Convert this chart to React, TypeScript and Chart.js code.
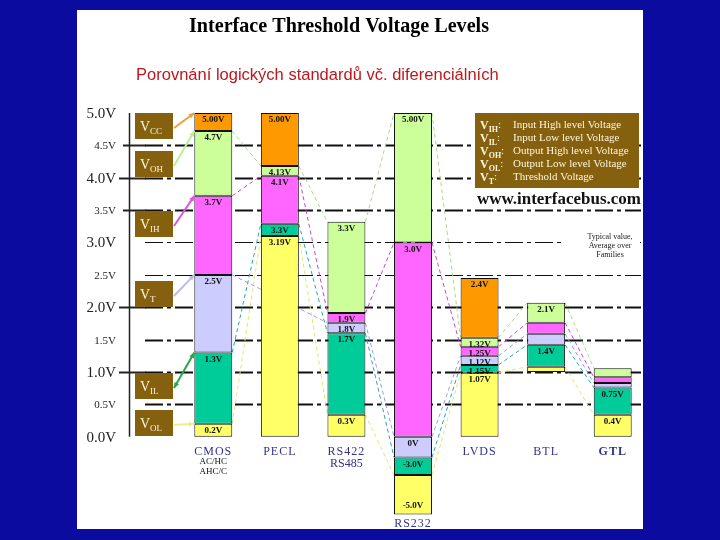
import React, { useEffect, useRef } from "react";
import { Chart, registerables } from "chart.js";
Chart.register(...registerables);

// ---------- data ----------
const categories = ["CMOS", "PECL", "RS422", "RS232", "LVDS", "BTL", "GTL"];
const categorySubLabels = [["AC/HC", "AHC/C"], [], ["RS485"], [], [], [], []];

// floating segments [low, high] as plotted (RS232 negative part is drawn compressed)
const volSeg = [[0, 0.2], [0, 3.1], [0, 0.34], [-1.2, -0.59], [0, 0.99], [1.0, 1.08], [0, 0.34]];
const vilSeg = [[0.2, 1.3], [3.1, 3.29], [0.34, 1.6], [-0.59, -0.32], [0.99, 1.11], [1.08, 1.42], [0.34, 0.76]];
const vtSeg = [[1.3, 2.5], null, [1.6, 1.76], [-0.32, 0], [1.11, 1.25], [1.42, 1.59], [0.76, 0.83]];
const vihSeg = [[2.5, 3.72], [3.29, 4.03], [1.76, 1.91], [0, 3.0], [1.25, 1.39], [1.59, 1.76], [0.83, 0.92]];
const vohSeg = [[3.72, 4.72], [4.03, 4.18], [1.91, 3.32], [3.0, 5.0], [1.39, 1.53], [1.76, 2.07], [0.92, 1.06]];
const vccSeg = [[4.72, 5.0], [4.18, 5.0], null, null, [1.53, 2.45], null, null];

const volText = ["0.2V", "3.19V", "0.3V", "-5.0V", "1.07V", null, "0.4V"];
const vilText = ["1.3V", "3.3V", "1.7V", "-3.0V", "1.15V", "1.4V", "0.75V"];
const vtText = ["2.5V", null, "1.8V", "0V", "1.12V", null, null];
const vihText = ["3.7V", "4.1V", "1.9V", "3.0V", "1.25V", null, null];
const vohText = ["4.7V", "4.13V", "3.3V", "5.00V", "1.32V", "2.1V", null];
const vccText = ["5.00V", "5.00V", null, null, "2.4V", null, null];

const yTickValues = [5, 4.5, 4, 3.5, 3, 2.5, 2, 1.5, 1, 0.5, 0];
const yTickLabels = ["5.0V", "4.5V", "4.0V", "3.5V", "3.0V", "2.5V", "2.0V", "1.5V", "1.0V", "0.5V", "0.0V"];
const gridValues = [4.5, 4, 3.5, 3, 2.5, 2, 1.5, 1, 0.5];

const levelSubs = ["CC", "OH", "IH", "T", "IL", "OL"];
const legendSubs = ["IH", "IL", "OH", "OL", "T"];
const legendTexts = [
  "Input High level Voltage",
  "Input Low level Voltage",
  "Output High level Voltage",
  "Output Low level Voltage",
  "Threshold Voltage",
];

const TITLE = "Interface Threshold Voltage Levels";
const SUBTITLE = "Porovnání logických standardů vč. diferenciálních";

// ---------- styles ----------
const fills = ["#ffff66", "#00cc99", "#ccccff", "#ff66ff", "#ccff99", "#ff9900"];
const lineColors = ["#e6e66a", "#2aa8a8", "#9a9aee", "#cc44cc", "#a8dd80", "#f0a040"];
const arrowColors = ["#f0a040", "#bbee99", "#dd55dd", "#bbbbee", "#22aa44", "#eeee88"];
const BROWN = "#85600f";
const SERIF = "'Liberation Serif', 'Times New Roman', serif";
const SANS = "'Liberation Sans', Arial, sans-serif";

const segs = [volSeg, vilSeg, vtSeg, vihSeg, vohSeg, vccSeg];
const texts = [volText, vilText, vtText, vihText, vohText, vccText];
// left box order: VCC, VOH, VIH, VT, VIL, VOL -> dataset index
const boxDataset = [5, 4, 3, 2, 1, 0];
const boxTopVolts = [5.0, 4.41, 3.49, 2.4, 0.99, 0.42];

function fitFont(ctx: CanvasRenderingContext2D, text: string, weight: string, family: string, target: number) {
  ctx.font = `${weight} 20px ${family}`;
  const w = ctx.measureText(text).width;
  const size = (20 * target) / w;
  return `${weight} ${size.toFixed(2)}px ${family}`;
}

function topOf(el: any) {
  return Math.min(el.y, el.base);
}
function bottomOf(el: any) {
  return Math.max(el.y, el.base);
}

function drawSubV(ctx: CanvasRenderingContext2D, x: number, yBase: number, sub: string, big: number, small: number, color: string, bold: boolean) {
  ctx.fillStyle = color;
  ctx.textAlign = "left";
  ctx.textBaseline = "alphabetic";
  ctx.font = `${bold ? "bold " : ""}${big}px ${SERIF}`;
  ctx.fillText("V", x, yBase);
  const w = ctx.measureText("V").width;
  ctx.font = `${bold ? "bold " : ""}${small}px ${SERIF}`;
  ctx.fillText(sub, x + w, yBase + small * 0.35);
  return x + w + ctx.measureText(sub).width;
}

function arrow(ctx: CanvasRenderingContext2D, x1: number, y1: number, x2: number, y2: number, color: string, both: boolean) {
  ctx.strokeStyle = color;
  ctx.fillStyle = color;
  ctx.lineWidth = 2;
  ctx.setLineDash([]);
  ctx.beginPath();
  ctx.moveTo(x1, y1);
  ctx.lineTo(x2, y2);
  ctx.stroke();
  const head = (xa: number, ya: number, xb: number, yb: number) => {
    const a = Math.atan2(yb - ya, xb - xa);
    ctx.beginPath();
    ctx.moveTo(xb, yb);
    ctx.lineTo(xb - 6 * Math.cos(a - 0.45), yb - 6 * Math.sin(a - 0.45));
    ctx.lineTo(xb - 6 * Math.cos(a + 0.45), yb - 6 * Math.sin(a + 0.45));
    ctx.closePath();
    ctx.fill();
  };
  head(x1, y1, x2, y2);
  if (both) head(x2, y2, x1, y1);
}

const deco = {
  id: "deco",
  beforeDatasetsDraw(chart: any) {
    const ctx: CanvasRenderingContext2D = chart.ctx;
    const ys = chart.scales.y;
    ctx.save();

    // title + subtitle
    ctx.fillStyle = "#000";
    ctx.textAlign = "center";
    ctx.textBaseline = "middle";
    ctx.font = fitFont(ctx, TITLE, "bold", SERIF, 300);
    ctx.fillText(TITLE, 339, 27);
    ctx.fillStyle = "#c0161e";
    ctx.textAlign = "left";
    ctx.font = fitFont(ctx, SUBTITLE, "normal", SANS, 363);
    ctx.fillText(SUBTITLE, 136, 75);

    // dash-dot grid lines
    ctx.strokeStyle = "#111";
    gridValues.forEach((v) => {
      const py = Math.round(ys.getPixelForValue(v)) + 0.5;
      ctx.lineWidth = v === 3 || v === 2.5 ? 1 : 2;
      ctx.setLineDash([18, 4, 4, 4]);
      ctx.beginPath();
      ctx.moveTo(145, py);
      ctx.lineTo(641, py);
      ctx.stroke();
    });
    ctx.setLineDash([]);
    // white area behind note text
    ctx.fillStyle = "#fff";
    ctx.fillRect(562, 228, 78, 36);

    // axis line + ticks + labels
    const p5 = ys.getPixelForValue(5);
    const p0 = ys.getPixelForValue(0);
    ctx.strokeStyle = "#222";
    ctx.lineWidth = 1.5;
    ctx.beginPath();
    ctx.moveTo(129.5, p5);
    ctx.lineTo(129.5, p0);
    ctx.stroke();
    yTickValues.forEach((v, i) => {
      const py = ys.getPixelForValue(v);
      const major = Number.isInteger(v);
      if (v > 0 && v < 5 && v !== 3 && v !== 2.5 && v !== 1.5 && v !== 0.5) {
        ctx.lineWidth = 2;
        ctx.beginPath();
        ctx.moveTo(major ? 119 : 123, Math.round(py) + 0.5);
        ctx.lineTo(146, Math.round(py) + 0.5);
        ctx.stroke();
      }
      ctx.fillStyle = "#222";
      ctx.textAlign = "right";
      ctx.textBaseline = "middle";
      ctx.font = `${major ? 15 : 11}px ${SERIF}`;
      ctx.fillText(yTickLabels[i], 116, py + 1);
    });

    // dashed connecting lines between bars
    ctx.lineWidth = 1;
    ctx.setLineDash([4, 3]);
    for (let d = 0; d < 5; d++) {
      const meta = chart.getDatasetMeta(d);
      const data = segs[d];
      ctx.strokeStyle = lineColors[d];
      for (let i = 0; i < data.length; i++) {
        if (!data[i]) continue;
        let j = i + 1;
        while (j < data.length && !data[j]) j++;
        if (j >= data.length) continue;
        const a: any = meta.data[i];
        const b: any = meta.data[j];
        ctx.beginPath();
        ctx.moveTo(a.x + a.width / 2, topOf(a));
        ctx.lineTo(b.x - b.width / 2, topOf(b));
        ctx.stroke();
      }
    }
    ctx.restore();
  },
  afterDatasetsDraw(chart: any) {
    const ctx: CanvasRenderingContext2D = chart.ctx;
    const ys = chart.scales.y;
    ctx.save();

    // segment labels
    ctx.textAlign = "center";
    ctx.textBaseline = "middle";
    ctx.fillStyle = "#111";
    ctx.font = `bold 9px ${SERIF}`;
    for (let d = 0; d < 6; d++) {
      const meta = chart.getDatasetMeta(d);
      texts[d].forEach((t, i) => {
        if (!t || !segs[d][i]) return;
        const el: any = meta.data[i];
        const seg = segs[d][i] as number[];
        const bottomOnly = seg[1] < 0 && d === 0;
        const py = bottomOnly ? bottomOf(el) - 9 : topOf(el) + 7;
        ctx.fillText(t, el.x, py);
      });
    }

    // category labels
    const metaAny = chart.getDatasetMeta(0);
    categories.forEach((c, i) => {
      const el: any = metaAny.data[i];
      const isLow = (volSeg[i] as number[])[0] < 0;
      const py = isLow ? bottomOf(el) + 9 : 452;
      ctx.fillStyle = "#333388";
      ctx.textAlign = "center";
      ctx.textBaseline = "middle";
      ctx.font = `${c === "GTL" ? "bold " : ""}12px ${SERIF}`;
      (ctx as any).letterSpacing = "1px";
      ctx.fillText(c, el.x, py);
      (ctx as any).letterSpacing = "0px";
      categorySubLabels[i].forEach((s, k) => {
        if (c === "CMOS") {
          ctx.fillStyle = "#111";
          ctx.font = `9px ${SERIF}`;
          ctx.fillText(s, el.x, py + 10 + k * 10);
        } else {
          ctx.fillStyle = "#333388";
          ctx.font = `12px ${SERIF}`;
          ctx.fillText(s, el.x, py + 12 + k * 12);
        }
      });
    });

    // left level boxes + arrows to CMOS
    const cm: any[] = [];
    for (let d = 0; d < 6; d++) cm.push(chart.getDatasetMeta(d).data[0]);
    boxTopVolts.forEach((v, k) => {
      const top = Math.round(ys.getPixelForValue(v));
      ctx.fillStyle = BROWN;
      ctx.fillRect(135, top, 38, 26);
      drawSubV(ctx, 140, top + 18, levelSubs[k], 14, 9, "#fff6dc", false);
      const el = cm[boxDataset[k]];
      arrow(ctx, 174, top + 15, el.x - el.width / 2, topOf(el), arrowColors[k], k === 4);
    });

    // legend box
    ctx.fillStyle = BROWN;
    ctx.fillRect(475, 113, 164, 75);
    legendSubs.forEach((s, k) => {
      const yb = 129 + k * 13;
      const end = drawSubV(ctx, 480, yb, s, 12, 8, "#fff6dc", true);
      ctx.font = `11px ${SERIF}`;
      ctx.fillText(":", end, yb - 1);
      ctx.fillText(legendTexts[k], 513, yb - 1);
    });
    ctx.fillStyle = "#111";
    ctx.textAlign = "left";
    ctx.textBaseline = "middle";
    ctx.font = fitFont(ctx, "www.interfacebus.com", "bold", SERIF, 164);
    ctx.fillText("www.interfacebus.com", 477, 200);

    ctx.textAlign = "center";
    ctx.font = `8px ${SERIF}`;
    ctx.fillStyle = "#222";
    ctx.fillText("Typical value,", 610, 237);
    ctx.fillText("Average over", 610, 246);
    ctx.fillText("Families", 610, 255);
    ctx.restore();
  },
};

export default function App() {
  const ref = useRef<HTMLCanvasElement | null>(null);
  useEffect(() => {
    if (!ref.current) return;
    const names = ["VOL", "VIL", "VT", "VIH", "VOH", "VCC"];
    const chart = new Chart(ref.current, {
      type: "bar",
      data: {
        labels: categories,
        datasets: segs.map((s, d) => ({
          label: names[d],
          data: s as any,
          backgroundColor: fills[d],
          borderColor: "#111",
          borderWidth: 1,
          borderSkipped: false,
          grouped: false,
          barPercentage: 0.57,
          categoryPercentage: 1,
        })) as any,
      },
      options: {
        responsive: false,
        animation: false,
        layout: { padding: { left: 180, right: 74, top: 100, bottom: 19 } },
        scales: {
          x: { display: false, offset: true },
          y: { display: false, min: -1.3, max: 5.2 },
        },
        plugins: { legend: { display: false }, tooltip: { enabled: false }, title: { display: false } },
      },
      plugins: [deco],
    });
    return () => chart.destroy();
  }, []);
  return (
    <div style={{ position: "fixed", left: 0, top: 0, width: 720, height: 540, background: "#0b0ba0" }}>
      <div style={{ position: "absolute", left: 77, top: 10, width: 566, height: 519, background: "#fff" }} />
      <canvas ref={ref} width={720} height={540} style={{ position: "absolute", left: 0, top: 0, display: "block" }} />
    </div>
  );
}
